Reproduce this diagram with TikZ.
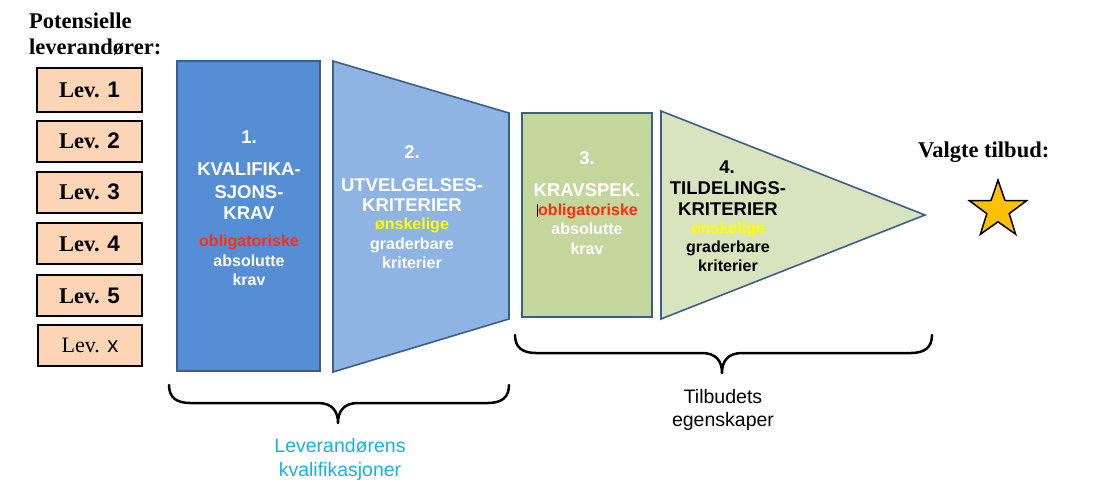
\documentclass[tikz,border=0pt]{standalone}
\usepackage{fontspec}
\setmainfont{Liberation Serif}
\setsansfont{Liberation Sans}
\usetikzlibrary{shapes.geometric}
\definecolor{levfill}{HTML}{FBD5B5}
\definecolor{bluedark}{HTML}{558ED5}
\definecolor{bluelight}{HTML}{8EB4E3}
\definecolor{greendark}{HTML}{C3D69B}
\definecolor{greenlight}{HTML}{D7E4BD}
\definecolor{edge}{HTML}{3A5F8B}
\definecolor{redtxt}{HTML}{FF2D0D}
\definecolor{yel}{HTML}{FFFF00}
\definecolor{cyantxt}{HTML}{1AAFE8}
\definecolor{starfill}{HTML}{FFC000}
\begin{document}
\begin{tikzpicture}[x=1pt,y=-1pt,
 levbox/.style={draw=black,line width=2pt,fill=levfill,minimum width=105pt,minimum height=41pt,inner sep=0pt,font=\fontsize{22.5}{26}\selectfont\bfseries},
 panel/.style={draw=edge,line width=1.6pt},
 big/.style={anchor=base,inner sep=0pt,font=\sffamily\bfseries\fontsize{18.5}{22}\selectfont},
 small/.style={anchor=base,inner sep=0pt,font=\sffamily\bfseries\fontsize{16}{19}\selectfont},
 title/.style={anchor=base west,inner sep=0pt,font=\bfseries\fontsize{22.5}{26}\selectfont},
 label/.style={anchor=base,inner sep=0pt,font=\sffamily\fontsize{19.5}{23}\selectfont},
 brace/.style={draw=black,line width=2.5pt,line cap=round,line join=round}]
\useasboundingbox (0,0) rectangle (1096,496);

% titles
\node[title] (pot) at (29,28) {Potensielle};
\node[title] (levt) at (29,54) {leverandører:};
\node[title] (valgte) at (918,157) {Valgte tilbud:};

% supplier boxes
\node[levbox,minimum height=44pt] (lev1) at (89.5,90) {Lev. \textsf{1}};
\node[levbox] (lev2) at (89.5,141) {Lev. \textsf{2}};
\node[levbox] (lev3) at (89.5,192) {Lev. \textsf{3}};
\node[levbox] (lev4) at (89.5,243.5) {Lev. \textsf{4}};
\node[levbox] (lev5) at (89.5,295.5) {Lev. \textsf{5}};
\node[levbox,minimum width=104pt,font=\fontsize{22}{26}\selectfont] (levx) at (90,345.5) {Lev. \textsf{x}};

% panels
\draw[panel,fill=bluedark] (177,61) rectangle (320,371);
\draw[panel,fill=bluelight] (333,61) -- (509,113) -- (509,319) -- (333,372) -- cycle;
\draw[panel,fill=greendark] (522,113) rectangle (652,317);
\draw[panel,fill=greenlight] (661,111) -- (925,215) -- (661,319) -- cycle;

% star
\node[star,star points=5,star point ratio=2.55,minimum size=60pt,inner sep=0pt,draw=black,line width=1.5pt,fill=starfill] (star) at (998,210) {};

% panel 1 text
\node[big,white] (n1) at (249,143) {1.};
\node[big,white] (k1a) at (249,175) {KVALIFIKA-};
\node[big,white] (k1b) at (249,198) {SJONS-};
\node[big,white] (k1c) at (249,219) {KRAV};
\node[small,redtxt] (k1d) at (249,246) {obligatoriske};
\node[small,white] (k1e) at (249,266) {absolutte};
\node[small,white] (k1f) at (249,285) {krav};

% panel 2 text
\node[big,white] (n2) at (412,158.5) {2.};
\node[big,white] (k2a) at (412,191.5) {UTVELGELSES-};
\node[big,white] (k2b) at (412,211.5) {KRITERIER};
\node[small,yel] (k2c) at (412,229.5) {ønskelige};
\node[small,white] (k2d) at (412,249) {graderbare};
\node[small,white] (k2e) at (412,268.5) {kriterier};

% panel 3 text
\node[big,white] (n3) at (587,164.5) {3.};
\node[big,white] (k3a) at (587,196) {KRAVSPEK.};
\node[small,redtxt] (k3b) at (588,215) {obligatoriske};
\node[small,white] (k3c) at (587,234.5) {absolutte};
\node[small,white] (k3d) at (587,254) {krav};
\draw[black,line width=0.6pt] (537,204) -- (537,217);

% panel 4 text
\node[big,black] (n4) at (727,173) {4.};
\node[big,black] (k4a) at (728,194) {TILDELINGS-};
\node[big,black] (k4b) at (728,215) {KRITERIER};
\node[small,yel] (k4c) at (728,233) {ønskelige};
\node[small,black] (k4d) at (728,252.5) {graderbare};
\node[small,black] (k4e) at (728,271.5) {kriterier};

% braces
\coordinate (b1l) at (169,385);
\coordinate (b1r) at (509,385);
\coordinate (b2l) at (515,335);
\coordinate (b2r) at (932,335);
\draw[brace] (b1l) .. controls (169,397) and (176,403) .. (190,403) -- (318,403)
  .. controls (332,403) and (338,411) .. (338,423)
  .. controls (338,411) and (344,403) .. (358,403) -- (488,403)
  .. controls (502,403) and (509,397) .. (b1r);
\draw[brace] (b2l) .. controls (515,347) and (522,353) .. (536,353) -- (702,353)
  .. controls (716,353) and (722,361) .. (722,373)
  .. controls (722,361) and (728,353) .. (742,353) -- (911,353)
  .. controls (925,353) and (932,347) .. (b2r);

% brace labels
\node[label,cyantxt] (lk1) at (340,452) {Leverandørens};
\node[label,cyantxt] (lk2) at (340,476) {kvalifikasjoner};
\node[label] (te1) at (723,403) {Tilbudets};
\node[label] (te2) at (723,426) {egenskaper};
\end{tikzpicture}
\end{document}
